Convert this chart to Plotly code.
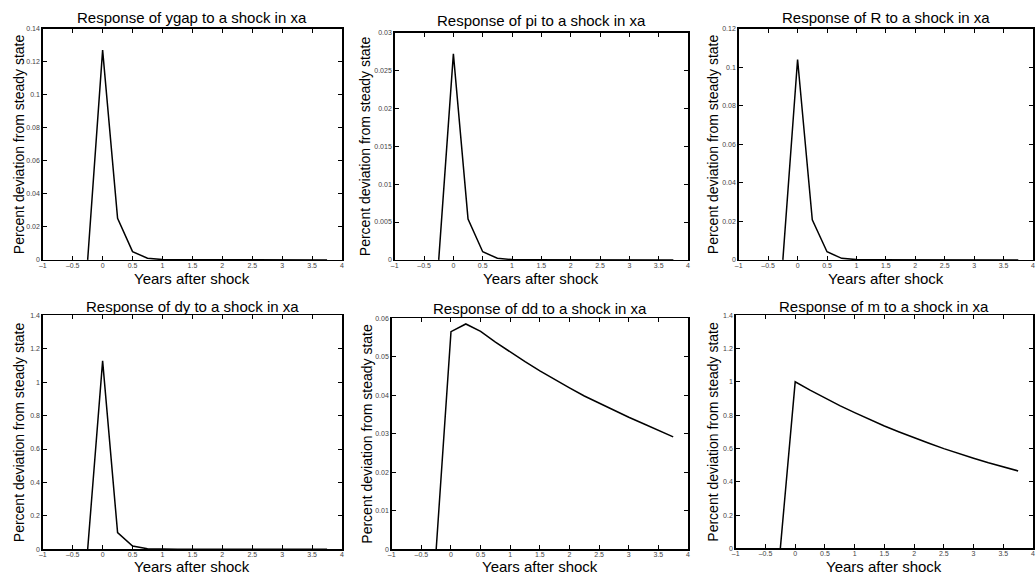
import plotly.graph_objects as go

W, H = 1036, 583

# quarters: -0.25 (pre-shock) .. 3.75 years
years = [-0.25, 0, 0.25, 0.5, 0.75, 1, 1.25, 1.5, 1.75, 2, 2.25, 2.5, 2.75, 3, 3.25, 3.5, 3.75]

ygap = [0, 0.127, 0.0252, 0.0050, 0.0010, 0.0002, 0.00004, 0, 0, 0, 0, 0, 0, 0, 0, 0, 0]
pi = [0, 0.0272, 0.0054, 0.00108, 0.00021, 0.00004, 0.00001, 0, 0, 0, 0, 0, 0, 0, 0, 0, 0]
R = [0, 0.104, 0.0208, 0.0042, 0.0008, 0.00016, 0.00003, 0, 0, 0, 0, 0, 0, 0, 0, 0, 0]
dy = [0, 1.127, 0.100, 0.020, 0.004, 0.0008, 0.0002, 0, 0, 0, 0, 0, 0, 0, 0, 0, 0]
dd = [0, 0.0565, 0.0585, 0.0566, 0.0538, 0.0512, 0.0487, 0.0463, 0.0440, 0.0419,
      0.0398, 0.0379, 0.0360, 0.0343, 0.0326, 0.0309, 0.0292]
m = [0, 1.0, 0.950, 0.903, 0.857, 0.815, 0.774, 0.735, 0.699, 0.664,
     0.631, 0.599, 0.569, 0.541, 0.514, 0.488, 0.465]

names = ["ygap", "pi", "R", "dy", "dd", "m"]
series = [ygap, pi, R, dy, dd, m]
ymax = [0.14, 0.03, 0.12, 1.4, 0.06, 1.4]
ystep = [0.02, 0.005, 0.02, 0.2, 0.01, 0.2]
xticks = [-1, -0.5, 0, 0.5, 1, 1.5, 2, 2.5, 3, 3.5, 4]

# panel boxes in pixels (left, right, top, bottom)
boxes = [
    (39, 340, 25, 259),
    (393, 688, 29, 259),
    (739, 1035, 25, 259),
    (39, 340, 315, 552),
    (390, 688, 318, 552),
    (736, 1035, 315, 551),
]
title_y = [14, 17, 14, 306, 308, 306]
ytitle_x = [15, 363, 713, 15, 365, 713]
xtitle_y = [278, 278, 278, 569, 569, 569]

FONT = "Liberation Sans, Arial, Helvetica, sans-serif"

fig = go.Figure()
annotations = []
layout = dict(
    width=W, height=H, margin=dict(l=0, r=0, t=0, b=0),
    paper_bgcolor="white", plot_bgcolor="white", showlegend=False,
    font=dict(family=FONT, color="#000"),
)

def fmt(v):
    s = ("%.3f" % v).rstrip("0").rstrip(".")
    return s if s else "0"

for i, (nm, ys) in enumerate(zip(names, series)):
    k = i + 1
    xa = "xaxis" if k == 1 else f"xaxis{k}"
    ya = "yaxis" if k == 1 else f"yaxis{k}"
    xr = "x" if k == 1 else f"x{k}"
    yr = "y" if k == 1 else f"y{k}"
    l, r, t, b = boxes[i]
    fig.add_trace(go.Scatter(x=years, y=ys, mode="lines", xaxis=xr, yaxis=yr,
                             line=dict(color="black", width=1.5), hoverinfo="skip"))
    n = int(round(ymax[i] / ystep[i]))
    yt = [round(j * ystep[i], 6) for j in range(n + 1)]
    common = dict(showgrid=False, zeroline=False, showline=True, linecolor="black",
                  linewidth=1.5, mirror="ticks", ticks="inside", ticklen=4,
                  tickcolor="black", tickwidth=1,
                  tickfont=dict(size=7, color="#444", family=FONT))
    layout[xa] = dict(domain=[l / W, r / W], anchor=yr, range=[-1, 4],
                      tickvals=xticks, ticktext=[fmt(v).replace("-", "\u2013") for v in xticks],
                      ticklabelstandoff=-2, **common)
    layout[ya] = dict(domain=[1 - b / H, 1 - t / H], anchor=xr, range=[0, ymax[i]],
                      tickvals=yt, ticktext=[fmt(v) for v in yt], **common)
    cx = (l + r) / 2 / W
    annotations.append(dict(text=f"Response of {nm} to a shock in xa", x=cx, y=1 - title_y[i] / H,
                            xref="paper", yref="paper", showarrow=False,
                            xanchor="center", yanchor="middle",
                            font=dict(size=15, family=FONT, color="black")))
    annotations.append(dict(text="Years after shock", x=cx, y=1 - xtitle_y[i] / H,
                            xref="paper", yref="paper", showarrow=False,
                            xanchor="center", yanchor="middle", borderpad=0,
                            font=dict(size=15, family=FONT, color="black")))
    annotations.append(dict(text="Percent deviation from steady state", x=ytitle_x[i] / W,
                            y=1 - (t + b) / 2 / H, xref="paper", yref="paper",
                            showarrow=False, textangle=-90,
                            xanchor="center", yanchor="middle",
                            font=dict(size=14, family=FONT, color="black")))

layout["annotations"] = annotations
fig.update_layout(**layout)
fig.write_html("out.html", config={"displayModeBar": False, "staticPlot": True},
               post_script="document.body.style.margin='0px';document.body.style.overflow='hidden';")
